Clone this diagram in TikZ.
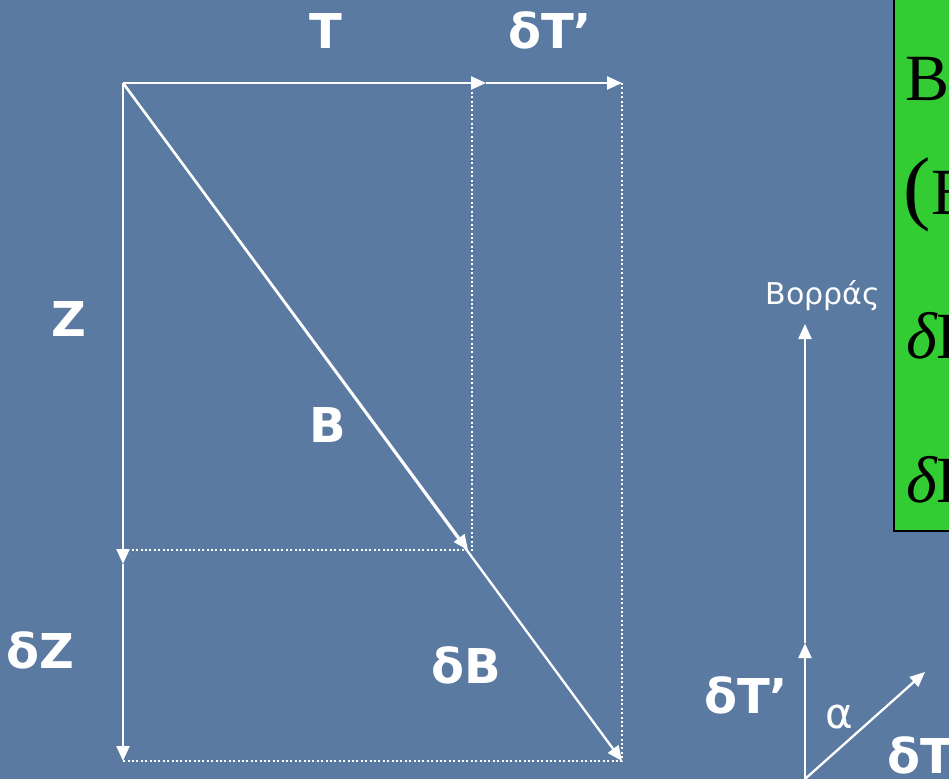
\documentclass[tikz,border=0pt]{standalone}
\usepackage{fontspec}
\setmainfont{DejaVu Sans}
\newfontfamily\timesf{Liberation Serif}
\usetikzlibrary{arrows.meta}
\definecolor{bgblue}{RGB}{90,122,162}
\definecolor{boxgreen}{RGB}{51,204,51}

\begin{document}
\begin{tikzpicture}[x=1pt, y=-1pt]
\tikzstyle{lbl}=[text=white, inner sep=0pt, font=\fontsize{48}{56}\selectfont\bfseries]
\tikzstyle{small}=[text=white, inner sep=0pt, font=\fontsize{30}{36}\selectfont]
\tikzstyle{eq}=[text=black, inner sep=0pt, anchor=base west, font=\timesf\fontsize{66}{70}\selectfont]
\tikzstyle{vec}=[draw=white, line width=2.3pt, -{Triangle[length=15pt, width=13pt]}]
\tikzstyle{guide}=[draw=white, line width=1.8pt, dash pattern=on 2pt off 2.4pt]
\useasboundingbox (0,0) rectangle (949,779);
\clip (0,0) rectangle (949,779);
\fill[bgblue] (0,0) rectangle (949,779);
% vectors
\coordinate (o) at (123,83);
\coordinate (t) at (486,83);
\coordinate (tt) at (622,83);
\coordinate (z) at (123,564);
\coordinate (zz) at (123,761);
\coordinate (c0) at (472,83);
\coordinate (c1) at (472,550);
\coordinate (b) at (468,550);
\coordinate (bb) at (622,761);
\draw[guide] (c0) -- (c1) -- (c1 -| o);
\draw[guide] (tt) -- (bb) -- (zz);
\draw[vec] (o) -- (t);
\draw[vec] (t) -- (tt);
\draw[vec] (o) -- (z);
\draw[vec] (z) -- (zz);
\draw[vec] (o) -- (b);
\draw[vec] (o) -- (bb);
\node[lbl, anchor=base] (lt) at (326,48) {T};
\node[lbl, anchor=base] (ldt) at (550,48) {δT’};
\node[lbl, anchor=base] (lz) at (69,336) {Z};
\node[lbl, anchor=base] (lb) at (328,442) {B};
\node[lbl, anchor=base] (ldz) at (40,668) {δZ};
\node[lbl, anchor=base] (ldb) at (466,683) {δB};
% compass
\coordinate (n0) at (805,779);
\coordinate (n1) at (805,643);
\coordinate (n2) at (805,324);
\coordinate (e1) at (925,672);
\draw[vec] (n0) -- (n1);
\draw[vec] (n1) -- (n2);
\draw[vec] (n0) -- (e1);
\node[small, anchor=base] (north) at (823,304) {Βορράς};
\node[lbl, anchor=base] (ldt2) at (746,713) {δT’};
\node[text=white, inner sep=0pt, anchor=base, font=\fontsize{42}{48}\selectfont] (alpha) at (839,728) {α};
\node[lbl, anchor=base west] (ldt3) at (887,773) {δT};
% green box
\draw[fill=boxgreen, draw=black, line width=2pt] (894,-10) rectangle (990,531);
\node[eq] (e1) at (905,100) {B};
\node[eq, font=\timesf\fontsize{82}{86}\selectfont] (e2a) at (903,214) {(};
\node[eq] (e2) at (931,214) {B};
\node[eq] (e3) at (906,358) {{\itshape δ}B};
\node[eq] (e4) at (906,502) {{\itshape δ}B};
\end{tikzpicture}
\end{document}
